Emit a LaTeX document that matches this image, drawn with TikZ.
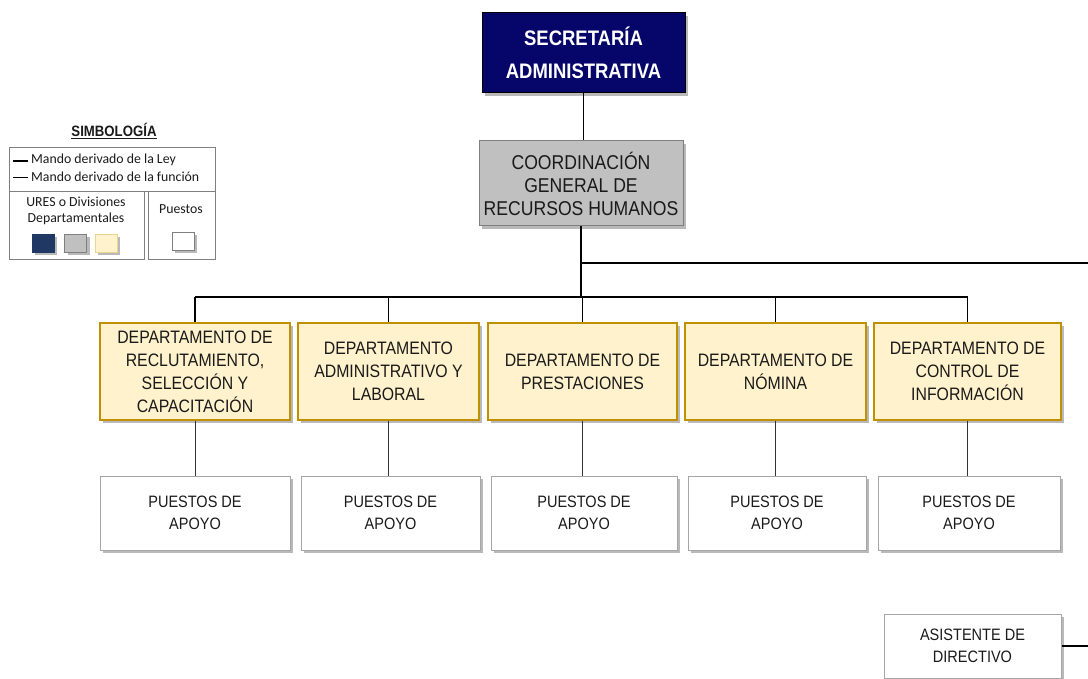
\documentclass[tikz,border=0pt]{standalone}
\usepackage{fontspec}
\setmainfont{Liberation Sans}[FakeStretch=0.88]
\newfontfamily\legendfont{Carlito}
\usetikzlibrary{shadows}

\definecolor{navyBox}{HTML}{06066A}
\definecolor{grayBox}{HTML}{C0C0C0}
\definecolor{grayEdge}{HTML}{7F7F7F}
\definecolor{creamBox}{HTML}{FFF2CC}
\definecolor{goldEdge}{HTML}{BF9000}
\definecolor{postEdge}{HTML}{A6A6A6}
\definecolor{legNavy}{HTML}{1F3864}
\definecolor{textGray}{HTML}{1A1A1A}

\tikzset{
  shadowed/.style = {drop shadow = {shadow xshift=3pt, shadow yshift=-3pt, fill=black!50, opacity=0.55}},
  orgbox/.style = {rectangle, draw, align=center, inner sep=0pt, shadowed},
  topbox/.style = {orgbox, fill=navyBox, draw=black, text=white, line width=1pt,
                   font=\bfseries\fontsize{21}{33}\selectfont},
  coordbox/.style = {orgbox, fill=grayBox, draw=grayEdge, text=textGray, line width=1pt,
                     font=\fontsize{20}{23}\selectfont},
  deptbox/.style = {orgbox, fill=creamBox, draw=goldEdge, text=textGray, line width=1.2pt,
                    minimum height=97pt, font=\fontsize{18}{23}\selectfont},
  postbox/.style = {orgbox, fill=white, draw=postEdge, text=textGray, line width=1pt,
                    minimum height=74pt, font=\fontsize{16.5}{22}\selectfont},
  swatch/.style = {rectangle, draw=grayEdge, inner sep=0pt, minimum width=22pt, minimum height=18pt, shadowed},
  mainline/.style = {line width=1.6pt},
  thinline/.style = {line width=0.8pt, black!80}
}

\begin{document}
\begin{tikzpicture}[x=1pt, y=-1pt]
  \useasboundingbox (0,0) rectangle (1088,679);

  % upper levels
  \node [topbox, minimum width=203pt, minimum height=80pt] (sec) at (583.5,53) {SECRETARÍA\\ADMINISTRATIVA};
  \node [coordbox, minimum width=204pt, minimum height=85pt] (coord) at (581,183.5) {COORDINACIÓN\\GENERAL DE\\RECURSOS HUMANOS};

  % departments
  \node [deptbox, minimum width=190pt] (dept1) at (195,371.5) {DEPARTAMENTO DE\\RECLUTAMIENTO,\\SELECCIÓN Y\\CAPACITACIÓN};
  \node [deptbox, minimum width=181pt] (dept2) at (388.5,371.5) {DEPARTAMENTO\\ADMINISTRATIVO Y\\LABORAL};
  \node [deptbox, minimum width=189pt] (dept3) at (582.5,371.5) {DEPARTAMENTO DE\\PRESTACIONES};
  \node [deptbox, minimum width=181pt] (dept4) at (775.5,371.5) {DEPARTAMENTO DE\\NÓMINA};
  \node [deptbox, minimum width=187pt] (dept5) at (967.5,371.5) {DEPARTAMENTO DE\\CONTROL DE\\INFORMACIÓN};

  % support posts
  \node [postbox, minimum width=190pt] (post1) at (195,513) {PUESTOS DE\\APOYO};
  \node [postbox, minimum width=179pt] (post2) at (390.5,513) {PUESTOS DE\\APOYO};
  \node [postbox, minimum width=186pt] (post3) at (584,513) {PUESTOS DE\\APOYO};
  \node [postbox, minimum width=178pt] (post4) at (777,513) {PUESTOS DE\\APOYO};
  \node [postbox, minimum width=182pt] (post5) at (969,513) {PUESTOS DE\\APOYO};
  \node [postbox, minimum width=177pt, minimum height=64pt] (asis) at (972.5,646) {ASISTENTE DE\\DIRECTIVO};

  % connectors
  \coordinate (bus) at (582,297);
  \coordinate (rightEnd) at (1088,263);
  \coordinate (asisEnd) at (1088,646);
  \draw [mainline] (sec.south) -- (sec.south |- coord.north);
  \draw [mainline] (coord.south) -- (coord.south |- bus);
  \draw [mainline] (coord.south |- rightEnd) -- (rightEnd);
  \draw [mainline] (dept1.north |- bus) -- (dept5.north |- bus);
  \foreach \i in {1,...,5} {
    \draw [mainline] (dept\i.north |- bus) -- (dept\i.north);
    \draw [thinline] (dept\i.south) -- (dept\i.south |- post\i.north);
  }
  \draw [mainline] (asis.east) -- (asisEnd);

  % legend
  \node [font=\bfseries\fontsize{15}{17}\selectfont, text=textGray] (legTitle) at (114,131) {\underline{SIMBOLOGÍA}};
  \draw [grayEdge, line width=0.8pt] (9,147) rectangle (215,191);
  \draw [grayEdge, line width=0.8pt] (9,191) rectangle (144,259);
  \draw [grayEdge, line width=0.8pt] (148,191) rectangle (215,259);
  \draw [line width=1.8pt] (13,161) -- (28,161);
  \draw [line width=1pt] (13,178) -- (28,178);
  \begin{scope}[font=\legendfont\fontsize{13.8}{16}\selectfont, text=textGray]
    \node [anchor=west, inner sep=0pt] (legLey) at (31,160) {Mando derivado de la Ley};
    \node [anchor=west, inner sep=0pt] (legFun) at (31,177) {Mando derivado de la función};
    \node [align=center, inner sep=0pt] (legUres) at (76,211) {URES o Divisiones\\Departamentales};
    \node [inner sep=0pt] (legPuestos) at (181,209) {Puestos};
  \end{scope}
  \node [swatch, fill=legNavy, draw=legNavy] (swNavy) at (43,243) {};
  \node [swatch, fill=grayBox] (swGray) at (75.5,243) {};
  \node [swatch, fill=creamBox, draw=creamBox!70!goldEdge] (swCream) at (106,243) {};
  \node [swatch, fill=white] (swWhite) at (183,241.5) {};
\end{tikzpicture}
\end{document}
